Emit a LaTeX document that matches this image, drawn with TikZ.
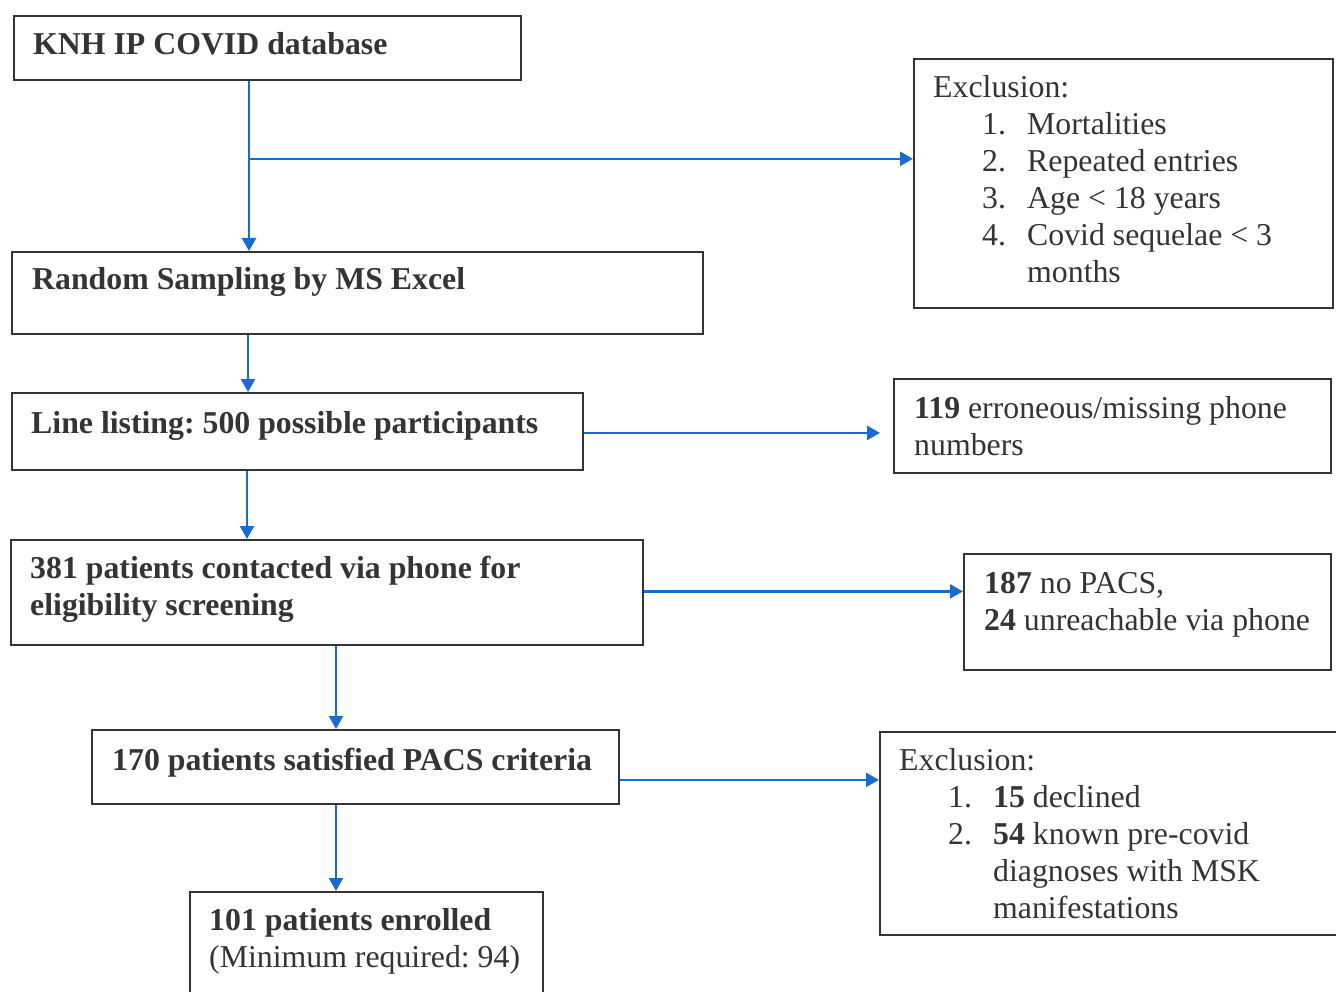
\documentclass[tikz,border=0pt]{standalone}
\usepackage{fontspec}
\setmainfont{Liberation Serif}
\usetikzlibrary{arrows.meta,calc}
\definecolor{fblue}{RGB}{22,108,212}
\definecolor{ink}{RGB}{52,52,52}
\frenchspacing
\begin{document}
\begin{tikzpicture}[x=1pt,y=-1pt,
  box/.style={draw=ink,line width=1.8pt,anchor=north west,inner sep=0pt},
  txt/.style={anchor=base west,inner sep=0pt,text=ink,font=\fontsize{31.8}{37}\selectfont\frenchspacing},
  arr/.style={draw=fblue,line width=2.3pt,-{Triangle[length=13pt,width=14pt]}},
  lin/.style={draw=fblue,line width=2.3pt}]
\useasboundingbox (0,0) rectangle (1336,992);
\clip (0,0) rectangle (1336,992);
\fill[white] (0,0) rectangle (1336,992);
% boxes
\node[box,minimum width=507pt,minimum height=64pt] (b1) at (13,15) {};
\node[box,minimum width=419pt,minimum height=249pt] (e1) at (913,58) {};
\node[box,minimum width=691pt,minimum height=82pt] (b2) at (11,251) {};
\node[box,minimum width=571pt,minimum height=77pt] (b3) at (11,392) {};
\node[box,minimum width=437pt,minimum height=94pt] (e2) at (893,378) {};
\node[box,minimum width=632pt,minimum height=105pt] (b4) at (10,539) {};
\node[box,minimum width=367pt,minimum height=116pt] (e3) at (963,553) {};
\node[box,minimum width=527pt,minimum height=74pt] (b5) at (91,729) {};
\node[box,minimum width=470pt,minimum height=203pt] (e4) at (879,731) {};
\node[box,minimum width=353pt,minimum height=140pt] (b6) at (189,891) {};
% texts
\node[txt] (t1) at (33,55) {\textbf{KNH IP COVID database}};
\node[txt] (t2) at (32,290) {\textbf{Random Sampling by MS Excel}};
\node[txt] (t3) at (31,433) {\textbf{Line listing: 500 possible participants}};
\node[txt] (t4) at (30,578) {\begin{tabular}[t]{@{}l@{}}\textbf{381 patients contacted via phone for}\\\textbf{eligibility screening}\end{tabular}};
\node[txt] (t5) at (112,770) {\textbf{170 patients satisfied PACS criteria}};
\node[txt] (t6) at (209,930) {\begin{tabular}[t]{@{}l@{}}\textbf{101 patients enrolled}\\(Minimum required: 94)\end{tabular}};
\node[txt] (te1) at (933,98) {\begin{tabular}[t]{@{}l@{}l@{}l@{}}
  \multicolumn{3}{@{}l@{}}{Exclusion:}\\
  \hspace*{49pt} & \makebox[45pt][l]{1.} & Mortalities\\
  & \makebox[45pt][l]{2.} & Repeated entries\\
  & \makebox[45pt][l]{3.} & Age < 18 years\\
  & \makebox[45pt][l]{4.} & Covid sequelae < 3\\
  & & months\end{tabular}};
\node[txt] (te2) at (914,418) {\begin{tabular}[t]{@{}l@{}}\textbf{119} erroneous/missing phone\\numbers\end{tabular}};
\node[txt] (te3) at (984,593) {\begin{tabular}[t]{@{}l@{}}\textbf{187} no PACS,\\\textbf{24} unreachable via phone\end{tabular}};
\node[txt] (te4) at (899,770) {\begin{tabular}[t]{@{}l@{}l@{}l@{}}
  \multicolumn{3}{@{}l@{}}{Exclusion:}\\
  \hspace*{49pt} & \makebox[45pt][l]{1.} & \textbf{15} declined\\
  & \makebox[45pt][l]{2.} & \textbf{54} known pre-covid\\
  & & diagnoses with MSK\\
  & & manifestations\end{tabular}};
% connectors
\coordinate (j1) at ([xshift=236pt]b1.south west);
\coordinate (br) at ($(j1)+(0,78)$);
\draw[arr] (j1) -- (j1 |- b2.north);
\draw[arr] (br) -- (br -| e1.west);
\coordinate (j2) at ([xshift=237pt]b2.south west);
\draw[arr] (j2) -- (j2 |- b3.north);
\coordinate (j3) at ([xshift=236pt]b3.south west);
\draw[arr] (j3) -- (j3 |- b4.north);
\coordinate (j4) at ([xshift=326pt]b4.south west);
\draw[arr] (j4) -- (j4 |- b5.north);
\coordinate (j5) at ([xshift=245pt]b5.south west);
\draw[arr] (j5) -- (j5 |- b6.north);
\coordinate (h3) at ([yshift=-1.5pt]b3.east);
\draw[arr,shorten >=13pt] (h3) -- (h3 -| e2.west);
\coordinate (h4) at ([yshift=1pt]b4.east);
\draw[arr] (h4) -- (h4 -| e3.west);
\coordinate (h5) at ([yshift=-13pt]b5.east);
\draw[arr] (h5) -- (h5 -| e4.west);
\end{tikzpicture}
\end{document}
